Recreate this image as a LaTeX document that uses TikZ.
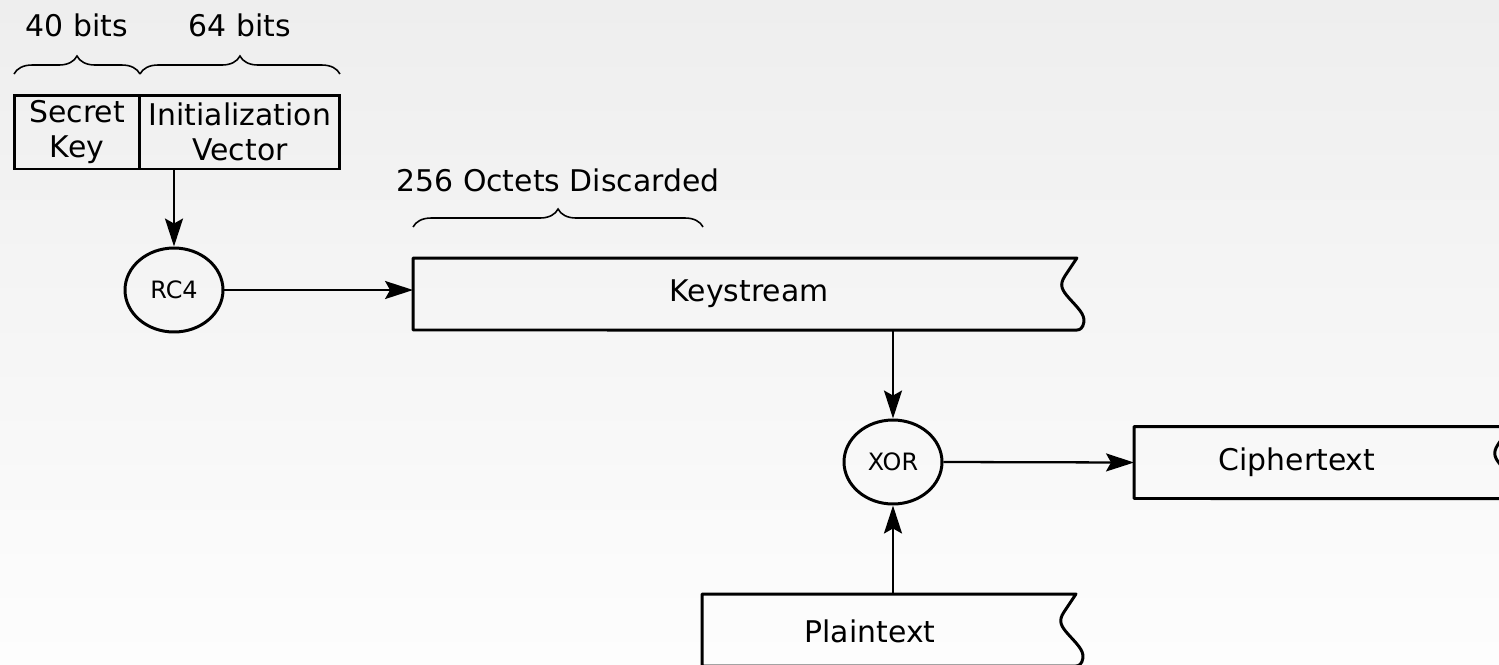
\documentclass[tikz,border=0pt]{standalone}
\usepackage{fontspec}
\setmainfont{DejaVu Sans}
\usepackage{tikz}
\usetikzlibrary{arrows.meta}
\usetikzlibrary{shapes}
\usetikzlibrary{positioning}
\usetikzlibrary{calc}
\usetikzlibrary{decorations.pathreplacing}

\definecolor{bgtop}{HTML}{EEEEEE}
\definecolor{bgbot}{HTML}{FDFDFD}

% open-ended tape: straight top and bottom, wavy right end
\newcommand{\tapeoutline}[1]{%
  \draw[tapeline,shift={(#1.north east)}] (#1.north west) -- (0,0) -- (-12,18)
    .. controls (-18,27) and (-15,32) .. (-8,40)
    .. controls (0,49) and (8,56) .. (7,64)
    .. controls (6,70) and (3,72) .. (0,72) -- (#1.south west) -- cycle;}

\begin{document}
\begin{tikzpicture}[x=0.02cm,y=-0.02cm,
  font=\fontsize{17}{19}\selectfont,
  keybox/.style={rectangle,draw,line width=1.7pt,outer sep=0pt,
    minimum height=1.48cm,align=center,inner sep=0pt},
  opnode/.style={ellipse,draw,line width=1.7pt,minimum width=1.96cm,
    minimum height=1.68cm,inner sep=0pt,font=\fontsize{13.6}{16}\selectfont},
  tape/.style={rectangle,minimum height=1.44cm,outer sep=0pt,inner sep=0pt},
  tapeline/.style={line width=1.7pt,line join=round},
  flow/.style={line width=1.3pt,-{Stealth[length=0.56cm,width=0.36cm,inset=0.1cm]}},
  brace/.style={decorate,decoration={brace,amplitude=0.36cm},line width=0.9pt}]

\useasboundingbox (0,0) rectangle (1499,664);
\clip (0,0) rectangle (1499,664);
\shade[top color=bgtop,bottom color=bgbot] (0,0) rectangle (1499,664);

% key material
\node[keybox,minimum width=2.52cm] (sk) at (77,132) {Secret\\[1pt]Key};
\node[keybox,minimum width=4cm,right=0pt of sk] (iv) {Initialization\\[1pt]Vector};
\draw[brace] ($(sk.north west)+(0,-21)$) -- ($(sk.north east)+(0,-21)$);
\draw[brace] ($(iv.north west)+(0,-21)$) -- ($(iv.north east)+(0,-21)$);
\node (skbits) at (77,25) {40 bits};
\node (ivbits) at (240,25) {64 bits};

% cipher and streams
\node[opnode] (rc4) at (174,290) {RC4};
\node[tape,minimum width=13.28cm] (ks) at (745,294) {};
\node (kstext) at (749,294) {Keystream};
\tapeoutline{ks}
\draw[brace] ($(ks.north west)+(0,-31)$) -- ($(ks.north west)+(290,-31)$);
\node (dropped) at (558,180) {256 Octets Discarded};

\node[opnode] (xor) at (893,462) {XOR};
\node[tape,minimum width=7.52cm] (ct) at (1322,462.5) {};
\node (cttext) at (1297,462) {Ciphertext};
\tapeoutline{ct}
\node[tape,minimum width=7.48cm] (pt) at (889,630) {};
\node (pttext) at (870,631) {Plaintext};
\tapeoutline{pt}

\draw[flow] (rc4 |- iv.south) -- (rc4.north);
\draw[flow] (rc4.east) -- (rc4 -| ks.west);
\draw[flow] (xor |- ks.south) -- (xor.north);
\draw[flow] (xor.east) -- (ct.west);
\draw[flow] (xor |- pt.north) -- (xor.south);
\end{tikzpicture}
\end{document}
